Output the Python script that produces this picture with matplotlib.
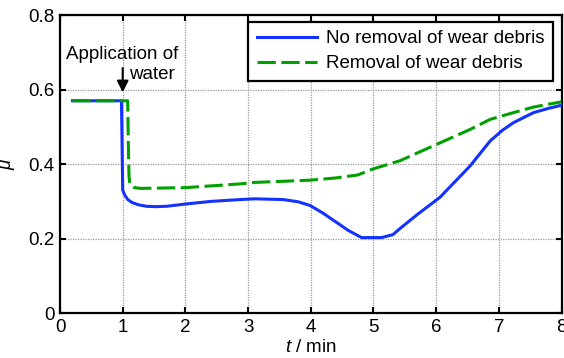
import matplotlib
matplotlib.use("Agg")
import matplotlib.pyplot as plt

plt.rcParams['font.family'] = ['Liberation Sans', 'DejaVu Sans']
plt.rcParams['mathtext.fontset'] = 'custom'
plt.rcParams['mathtext.it'] = 'Liberation Sans:italic'
plt.rcParams['mathtext.rm'] = 'Liberation Sans'

# Data
t_blue = [0.2, 0.5, 0.98, 0.99, 1.0, 1.03, 1.08, 1.15, 1.25, 1.38, 1.52, 1.7, 2.0, 2.4, 2.87, 3.11, 3.56, 3.8, 3.99, 4.2, 4.4, 4.6, 4.81, 5.13, 5.31, 5.42, 5.7, 6.06, 6.54, 6.86, 7.05, 7.23, 7.55, 7.8, 8.0]
mu_blue = [0.57, 0.57, 0.57, 0.45, 0.33, 0.318, 0.305, 0.297, 0.291, 0.287, 0.286, 0.287, 0.293, 0.3, 0.305, 0.307, 0.305, 0.299, 0.289, 0.268, 0.245, 0.222, 0.203, 0.203, 0.211, 0.227, 0.265, 0.311, 0.395, 0.462, 0.49, 0.511, 0.538, 0.55, 0.558]

t_green = [0.2, 0.6, 1.08, 1.09, 1.10, 1.11, 1.13, 1.17, 1.23, 1.3, 2.0, 2.87, 3.11, 3.99, 4.4, 4.75, 4.99, 5.42, 5.98, 6.54, 6.86, 7.23, 7.55, 7.8, 8.0]
mu_green = [0.57, 0.57, 0.57, 0.45, 0.37, 0.352, 0.343, 0.338, 0.336, 0.335, 0.337, 0.347, 0.351, 0.357, 0.363, 0.371, 0.387, 0.409, 0.451, 0.493, 0.52, 0.538, 0.553, 0.561, 0.567]

labels = ["No removal of wear debris", "Removal of wear debris"]
xticks = [0, 1, 2, 3, 4, 5, 6, 7, 8]
yticks = [0, 0.2, 0.4, 0.6, 0.8]

fig = plt.figure(figsize=(5.64, 3.58), dpi=100)
ax = fig.add_axes([0.1064, 0.1249, 0.8893, 0.8332])

ax.plot(t_blue, mu_blue, color='#1432ff', lw=2.2, label=labels[0], zorder=3)
ax.plot(t_green, mu_green, color='#00a000', lw=2.2, dashes=(6, 1.8), label=labels[1], zorder=3)

ax.set_xlim(0, 8)
ax.set_ylim(0, 0.8)
ax.set_xticks(xticks)
ax.set_yticks(yticks)
ax.set_xticklabels([str(v) for v in xticks])
ax.set_yticklabels(['0', '0.2', '0.4', '0.6', '0.8'])
ax.tick_params(direction='in', length=4, width=1.5, labelsize=13.5, top=True, right=True, pad=4)
ax.grid(True, color='#999999', linestyle=(0, (1, 1)), lw=0.9)
for s in ax.spines.values():
    s.set_linewidth(1.6)

ax.set_xlabel(r'$t$ / min', fontsize=13.5, labelpad=2)
ax.set_ylabel(r'$\mu$', fontsize=13.5, labelpad=8)

leg = ax.legend(loc='upper right', bbox_to_anchor=(0.983, 0.977), fontsize=13.5,
                frameon=True, fancybox=False, edgecolor='black', framealpha=1,
                handlelength=3.2, borderpad=0.45, labelspacing=0.42, handletextpad=0.5,
                borderaxespad=0)
leg.get_frame().set_linewidth(1.6)

ax.annotate('', xy=(1.0, 0.585), xytext=(1.0, 0.665),
            arrowprops=dict(arrowstyle='-|>', color='black', lw=1.5, mutation_scale=17), zorder=4)
ax.text(1.88, 0.695, 'Application of', fontsize=13.5, ha='right', va='center')
ax.text(1.1, 0.64, 'water', fontsize=13.5, ha='left', va='center')

fig.savefig('out.png', dpi=100)
